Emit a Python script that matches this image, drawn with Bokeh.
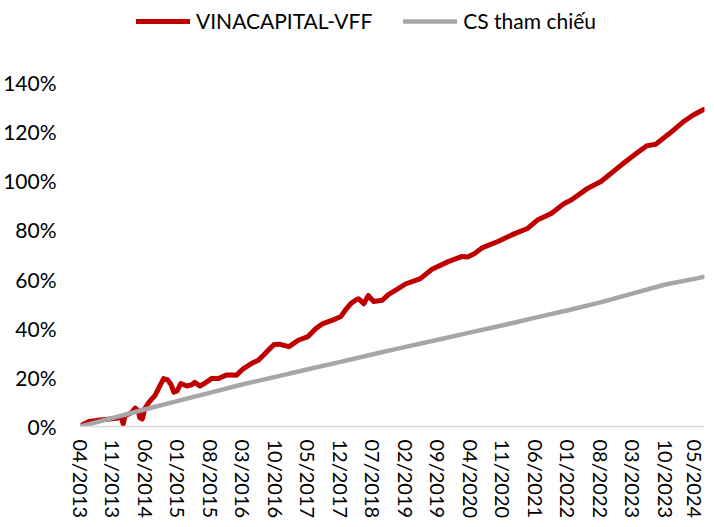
from bokeh.plotting import figure
from bokeh.layouts import column
from bokeh.models import Range1d, FixedTicker, Legend, LegendItem
from bokeh.embed import file_html
from bokeh.resources import INLINE

# ---------------- data ----------------
tick_labels = ["04/2013", "11/2013", "06/2014", "01/2015", "08/2015", "03/2016",
               "10/2016", "05/2017", "12/2017", "07/2018", "02/2019", "09/2019",
               "04/2020", "11/2020", "06/2021", "01/2022", "08/2022", "03/2023",
               "10/2023", "05/2024"]
y_ticks = [0, 20, 40, 60, 80, 100, 120, 140]
series_names = ["VINACAPITAL-VFF", "CS tham chiếu"]

# VINACAPITAL-VFF: months since 04/2013, cumulative return (%)
vff_months = [0, 1.7, 3.6, 6.0, 7.9, 8.8, 9.2, 9.6, 10.9, 11.8, 12.4, 12.8, 13.3, 13.9,
              14.8, 16.0, 17.1, 17.9, 18.8, 19.5, 20.1, 20.8, 21.6, 22.9, 24.0, 24.6,
              25.7, 26.7, 28.2, 29.7, 31.5, 32.7, 33.6, 35.1, 36.8, 38.3, 39.4, 40.7,
              41.7, 42.8, 43.6, 44.9, 46.9, 49.0, 50.7, 52.2, 54.3, 56.1, 57.1, 58.2,
              59.3, 59.9, 61.0, 62.0, 63.1, 65.0, 66.3, 68.5, 70.0, 73.2, 75.7, 79.2,
              82.2, 83.4, 84.9, 86.6, 89.9, 93.5, 96.3, 98.4, 101.4, 104.2, 105.7,
              109.3, 112.1, 116.6, 119.4, 121.9, 123.9, 126.7, 129.7, 131.8, 134.2]
vff_pct = [0.3, 2.0, 2.5, 3.0, 3.4, 3.8, 1.0, 4.5, 5.5, 7.5, 6.5, 3.5, 3.0, 7.5,
           10.0, 12.5, 16.5, 19.5, 19.0, 17.0, 14.0, 14.5, 17.5, 16.5, 17.0, 18.0,
           16.5, 17.5, 19.5, 19.5, 21.0, 21.0, 20.9, 23.6, 25.6, 27.0, 29.0, 31.5,
           33.4, 33.5, 33.1, 32.5, 35.1, 36.6, 39.9, 41.9, 43.3, 44.8, 47.5, 50.0,
           51.5, 52.0, 50.0, 53.3, 50.9, 51.4, 53.7, 56.2, 58.0, 60.2, 64.0, 67.1,
           69.2, 69.0, 70.4, 72.8, 75.3, 78.5, 80.6, 84.0, 86.7, 90.8, 92.2,
           97.0, 99.7, 106.6, 110.7, 114.2, 114.9, 119.0, 123.8, 126.6, 129.0]

# CS tham chiếu
cs_months = [0, 7, 14, 21, 28, 35, 42, 49, 56, 63, 70, 77, 84, 91, 98, 105, 112,
             119, 126, 133, 134.2]
cs_pct = [0, 3.5, 7.0, 10.4, 13.8, 17.2, 20.2, 23.3, 26.3, 29.4, 32.4, 35.3, 38.3,
          41.2, 44.3, 47.3, 50.5, 54.2, 57.8, 60.4, 60.9]


def month_offset(lbl):
    mm, yy = lbl.split("/")
    return (int(yy) - 2013) * 12 + int(mm) - 4


FONT = "Lato"
RED = "#C00000"
GRAY = "#A6A6A6"
LEFT, FW, RIGHT = 79, 624, 2
W = LEFT + FW + RIGHT
LEG_H = 33

# ---------------- main chart ----------------
p = figure(frame_width=FW, frame_height=344, output_backend="svg",
           toolbar_location=None,
           x_range=Range1d(0, 134.4), y_range=Range1d(0, 140),
           min_border_left=LEFT, min_border_right=RIGHT, min_border_top=49,
           min_border_bottom=85)

p.line(vff_months, vff_pct, line_color=RED, line_width=5,
       line_join="round", line_cap="round")
p.line(cs_months, cs_pct, line_color=GRAY, line_width=4.5,
       line_join="round", line_cap="round")

p.outline_line_color = None
p.xgrid.visible = False
p.ygrid.visible = False

xt = [month_offset(l) for l in tick_labels]
p.xaxis.ticker = FixedTicker(ticks=xt)
p.xaxis.major_label_overrides = {t: l for t, l in zip(xt, tick_labels)}
p.xaxis.major_label_orientation = "vertical"
p.xaxis.axis_line_color = "#D9D9D9"
p.xaxis.axis_line_width = 1.5
p.xaxis.major_label_standoff = 13
p.xaxis.major_label_text_font_size = "20px"

p.yaxis.ticker = FixedTicker(ticks=y_ticks)
p.yaxis.major_label_overrides = {t: f"{t}%" for t in y_ticks}
p.yaxis.axis_line_color = None
p.yaxis.major_label_standoff = 24
p.yaxis.major_label_text_font_size = "21px"

for ax in (p.xaxis, p.yaxis):
    ax.major_tick_line_color = None
    ax.minor_tick_line_color = None
    ax.major_tick_out = 0
    ax.major_tick_in = 0
    ax.minor_tick_out = 0
    ax.minor_tick_in = 0
    ax.major_label_text_font = FONT
    ax.major_label_text_color = "#000000"

# ---------------- legend strip (series drawn out of view, keys only) ----------------
lg = figure(width=W, height=LEG_H, output_backend="svg", toolbar_location=None,
            x_axis_type=None, y_axis_type=None,
            x_range=Range1d(-20, -10), y_range=Range1d(0, 140),
            min_border_left=0, min_border_right=0, min_border_top=0,
            min_border_bottom=0)
lg.outline_line_color = None
lg.xgrid.visible = False
lg.ygrid.visible = False
k_red = lg.line(vff_months, vff_pct, line_color=RED, line_width=5, line_cap="round")
k_gray = lg.line(cs_months, cs_pct, line_color=GRAY, line_width=4.5, line_cap="round")

legend = Legend(items=[LegendItem(label=series_names[0], renderers=[k_red]),
                       LegendItem(label=series_names[1], renderers=[k_gray])],
                location=(56, 0), orientation="horizontal",
                glyph_width=54, glyph_height=20, label_standoff=6, spacing=31,
                padding=0, margin=0, border_line_color=None,
                background_fill_alpha=0, label_text_font=FONT,
                label_text_font_size="21px", label_text_color="#000000")
lg.add_layout(legend, "center")

open("out.html", "w").write(file_html(column(lg, p, spacing=0), INLINE))
